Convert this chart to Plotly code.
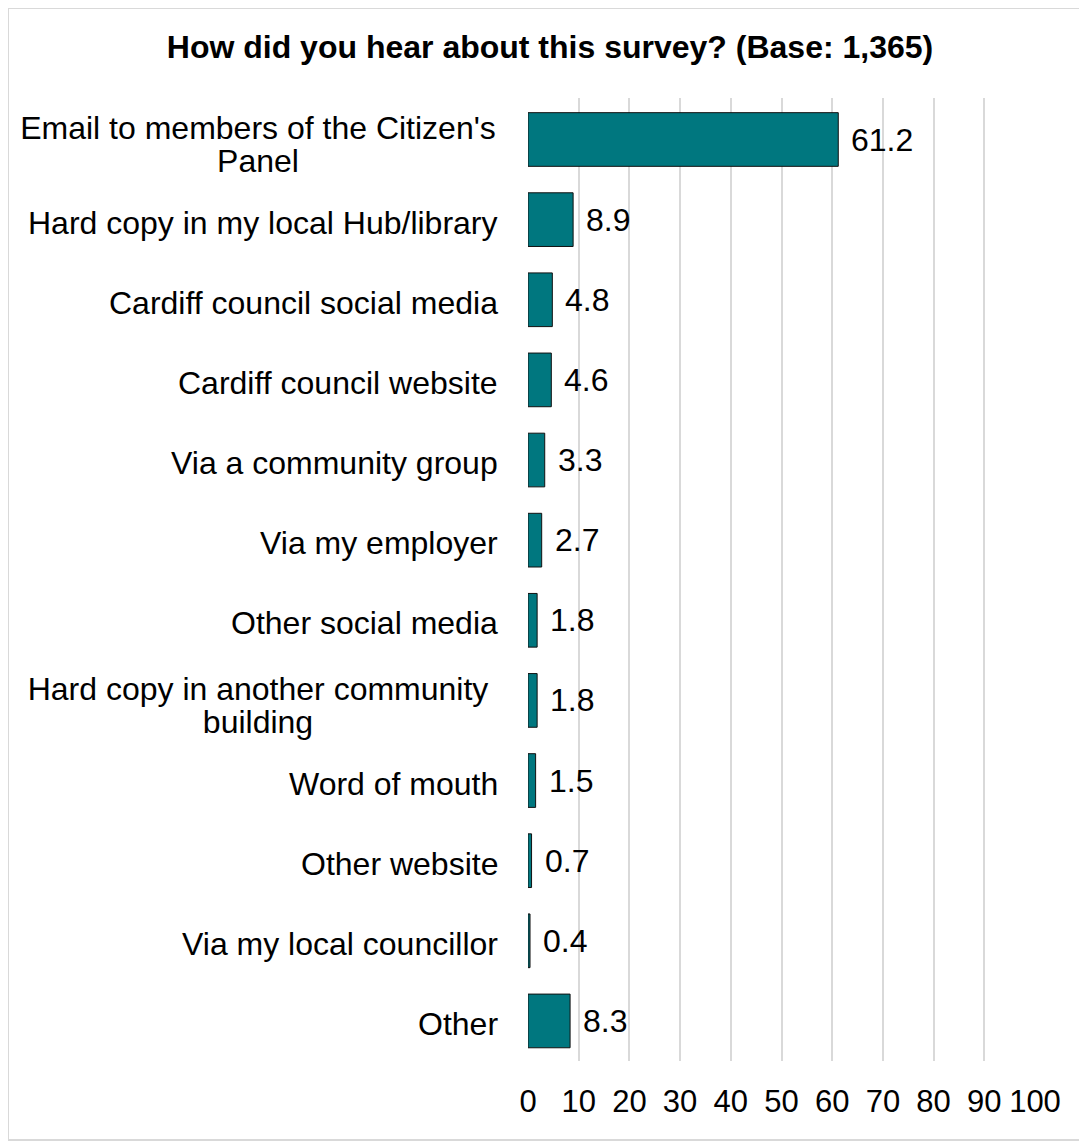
import plotly.graph_objects as go

categories = [
    "Email to members of the Citizen's<br>Panel",
    "Hard copy in my local Hub/library",
    "Cardiff council social media",
    "Cardiff council website",
    "Via a community group",
    "Via my employer",
    "Other social media",
    "Hard copy in another community<br>building",
    "Word of mouth",
    "Other website",
    "Via my local councillor",
    "Other",
]
values = [61.2, 8.9, 4.8, 4.6, 3.3, 2.7, 1.8, 1.8, 1.5, 0.7, 0.4, 8.3]
x_ticks = [0, 10, 20, 30, 40, 50, 60, 70, 80, 90, 100]
title_text = "How did you hear about this survey? (Base: 1,365)"

FONT = "Arial, Liberation Sans, sans-serif"
BAR_COLOR = "#00777F"
FS = 32
LINE_GAP = 33      # px between wrapped label lines
WRAP_BOX = 480     # px width of the centred box for wrapped labels

W, H = 1079, 1139

fig = go.Figure()
fig.add_trace(go.Bar(
    x=values,
    y=categories,
    orientation="h",
    marker=dict(color=BAR_COLOR, line=dict(color="#111111", width=1)),
    hoverinfo="skip",
))

annotations = []
for cat, val in zip(categories, values):
    lines = cat.split("<br>")
    n = len(lines)
    base_shift = -5 if n > 1 else -3
    for i, line in enumerate(lines):
        ann = dict(
            x=0, xref="paper", y=cat, yref="y",
            text=line, showarrow=False, xanchor="right",
            xshift=-28, yshift=((n - 1) / 2 - i) * LINE_GAP + base_shift,
            font=dict(family=FONT, size=FS, color="#000000"),
        )
        if n > 1:
            ann.update(width=WRAP_BOX, align="center")
        annotations.append(ann)
    annotations.append(dict(
        x=val, xref="x", y=cat, yref="y",
        text=f"{val:.1f}", showarrow=False, xanchor="left",
        xshift=11, font=dict(family=FONT, size=FS, color="#000000"),
    ))

fig.update_layout(
    width=W, height=H,
    margin=dict(l=520, r=52, t=90, b=86),
    paper_bgcolor="white", plot_bgcolor="white",
    showlegend=False,
    bargap=0.33,
    title=dict(
        text=f"<b>{title_text}</b>",
        x=(550 - 8) / W, xref="container", xanchor="center",
        y=1 - 39 / H, yref="container", yanchor="middle",
        font=dict(family=FONT, size=FS, color="#000000"),
    ),
    xaxis=dict(
        range=[0, 100], tickvals=x_ticks, ticktext=[str(t) for t in x_ticks],
        showgrid=True, gridcolor="#d9d9d9", gridwidth=2,
        zeroline=False, showline=False, ticks="",
        ticklabelstandoff=19,
        tickfont=dict(family=FONT, size=31, color="#000000"),
        fixedrange=True,
    ),
    yaxis=dict(
        autorange="reversed", showticklabels=False, showgrid=False,
        zeroline=False, showline=False, ticks="", fixedrange=True,
    ),
    annotations=annotations,
    shapes=[dict(
        type="rect", xref="paper", yref="paper",
        x0=(0 - 520) / 507, x1=(1072 - 520) / 507,
        y0=(963 - 1132 + 90) / 963, y1=(963 + 90 - 0) / 963,
        line=dict(color="#d9d9d9", width=2), fillcolor="rgba(0,0,0,0)",
        layer="below",
    )],
)

fig.write_html("out.html")
